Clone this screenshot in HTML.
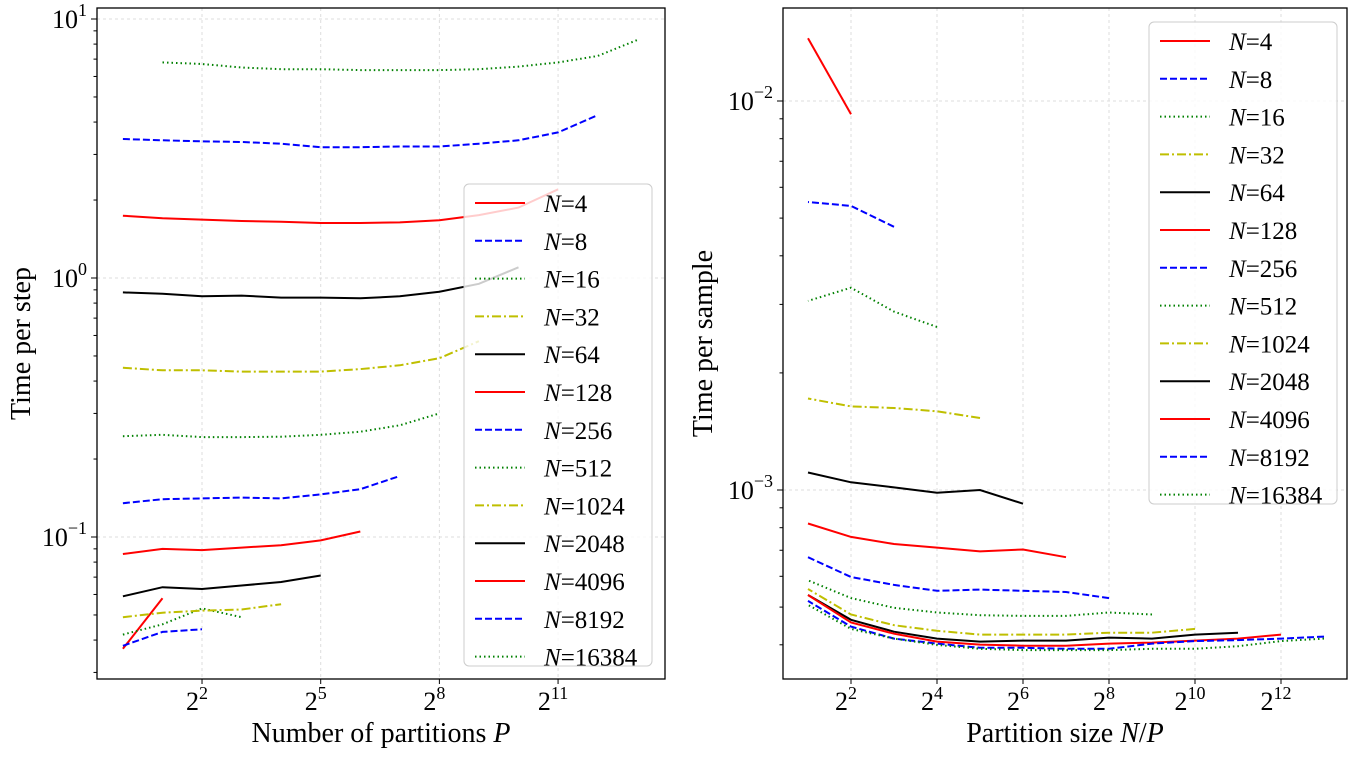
<!DOCTYPE html>
<html><head><meta charset="utf-8"><style>
body{margin:0;background:#fff;}
svg{display:block;font-family:"Liberation Serif",serif;}
</style></head><body>
<svg id="chart" width="1360" height="760" xmlns="http://www.w3.org/2000/svg"></svg>
<script>
// Data: time per step for each N, indexed by P = 1,2,4,... (first P given in pStart)
const seriesN = [4,8,16,32,64,128,256,512,1024,2048,4096,8192,16384];
const pStartExp = [0,0,0,0,0,0,0,0,0,0,0,0,1];
const timePerStep = [
 [0.037,0.058],
 [0.038,0.043,0.044],
 [0.042,0.046,0.053,0.049],
 [0.049,0.051,0.052,0.0525,0.055],
 [0.059,0.064,0.063,0.065,0.067,0.071],
 [0.086,0.090,0.089,0.091,0.093,0.097,0.105],
 [0.135,0.140,0.141,0.142,0.141,0.146,0.153,0.172],
 [0.245,0.248,0.243,0.243,0.244,0.248,0.255,0.270,0.300],
 [0.450,0.440,0.440,0.435,0.435,0.435,0.445,0.460,0.490,0.570],
 [0.88,0.87,0.85,0.855,0.84,0.84,0.835,0.85,0.885,0.95,1.10],
 [1.74,1.70,1.68,1.66,1.65,1.63,1.63,1.64,1.67,1.75,1.87,2.20],
 [3.44,3.40,3.37,3.35,3.30,3.20,3.20,3.22,3.22,3.30,3.40,3.65,4.25],
 [6.8,6.7,6.5,6.4,6.4,6.35,6.35,6.35,6.4,6.55,6.8,7.2,8.3]
];
const leftXTicks = [2,5,8,11];
const rightXTicks = [2,4,6,8,10,12];
const leftYTicks = [1,0,-1];
const rightYTicks = [-2,-3];

const svg = document.getElementById('chart');
const NS='http://www.w3.org/2000/svg';
function el(tag, attrs, parent){const e=document.createElementNS(NS,tag);for(const k in attrs)e.setAttribute(k,attrs[k]);(parent||svg).appendChild(e);return e;}
const colors=['#ff0000','#0000ff','#008000','#bfbf00','#000000'];
const dashes=['none','7,3','1.5,3','9,3,2,3','none'];
function styleOf(i){const k=i%5;return {stroke:colors[k],dash:dashes[k]};}

function makeAxes(cfg){
  const g=el('g',{});
  
  
  const X=v=>cfg.x0+(Math.log2(v)-cfg.xl0)*cfg.xs;
  const Y=v=>cfg.y0-(Math.log10(v)-cfg.yl0)*cfg.ys;
  cfg.xt.forEach(e=>{const x=X(Math.pow(2,e));el('line',{x1:x,x2:x,y1:cfg.top,y2:cfg.bot,stroke:'#ddd','stroke-dasharray':'3,3','stroke-width':1},g);});
  cfg.yt.forEach(e=>{const y=Y(Math.pow(10,e));el('line',{x1:cfg.left,x2:cfg.right,y1:y,y2:y,stroke:'#ddd','stroke-dasharray':'3,3','stroke-width':1},g);});
  cfg.xt.forEach(e=>{const x=X(Math.pow(2,e));el('line',{x1:x,x2:x,y1:cfg.bot,y2:cfg.bot+5,stroke:'#000'},g);
    const t=el('text',{x:x-5,y:cfg.bot+31,'font-size':26,'text-anchor':'middle'},g);
    
    t.innerHTML='2<tspan dy="-11" font-size="18">'+e+'</tspan>';});
  for(let d=-5;d<=2;d++){for(let m=1;m<10;m++){const v=m*Math.pow(10,d);const y=Y(v);if(y<cfg.top||y>cfg.bot)continue;
    el('line',{x1:cfg.left-(m==1?6:3.5),x2:cfg.left,y1:y,y2:y,stroke:'#000'},g);}}
  cfg.yt.forEach(e=>{const y=Y(Math.pow(10,e));
    const t=el('text',{x:cfg.left-10,y:y+9,'font-size':26,'text-anchor':'end'},g);
    
    t.innerHTML='10<tspan dy="-12" font-size="18">'+(e<0?'\u2212'+(-e):e)+'</tspan>';});
  const lg=el('g',{},g);
  cfg.series.forEach((s,i)=>{const st=styleOf(i);
    const p=el('polyline',{points:s.map(q=>X(q[0]).toFixed(1)+','+Y(q[1]).toFixed(1)).join(' '),fill:'none',stroke:st.stroke,'stroke-width':2,'stroke-dasharray':st.dash},lg);
    });
  el('rect',{x:cfg.left,y:cfg.top,width:cfg.right-cfg.left,height:cfg.bot-cfg.top,fill:'none',stroke:'#000','stroke-width':1.3},g);
  const L=el('g',{},g);
  el('rect',{x:cfg.lx,y:cfg.ly,width:188,height:482,rx:5,fill:'rgba(255,255,255,0.8)',stroke:'#ccc'},L);
  seriesN.forEach((n,i)=>{const st=styleOf(i);const y=cfg.ly+19+i*37.8;
    const en=el('g',{},L);
    el('line',{x1:cfg.lx+11,x2:cfg.lx+61,y1:y,y2:y,stroke:st.stroke,'stroke-width':2,'stroke-dasharray':st.dash},en);
    const t=el('text',{x:cfg.lx+80,y:y+9,'font-size':25},en);t.innerHTML='<tspan font-style="italic">N</tspan>='+n;});
  const xt=el('text',{x:(cfg.left+cfg.right)/2,y:742,'font-size':28,'text-anchor':'middle'},g);
  xt.innerHTML=cfg.xtitle;
  const yt=el('text',{x:0,y:0,'font-size':28,'text-anchor':'middle',transform:'translate('+cfg.ytx+','+((cfg.top+cfg.bot)/2)+') rotate(-90)'},g);
  yt.textContent=cfg.ytitle;
}

const leftSeries=timePerStep.map((arr,i)=>arr.map((v,j)=>[Math.pow(2,pStartExp[i]+j),v]));
const rightSeries=timePerStep.map((arr,i)=>arr.map((v,j)=>[seriesN[i]/Math.pow(2,pStartExp[i]+j),v/seriesN[i]]));

makeAxes({name:'left-chart',left:97,right:665,top:8,bot:679,x0:122.9,xl0:0,xs:39.56,y0:278,yl0:0,ys:259,
  xt:leftXTicks,yt:leftYTicks,series:leftSeries,lx:464,ly:184,xtitle:'Number of partitions <tspan font-style="italic">P</tspan>',ytitle:'Time per step',ytx:30});
makeAxes({name:'right-chart',left:783,right:1347,top:8,bot:679,x0:765,xl0:0,xs:43,y0:101,yl0:-2,ys:389,
  xt:rightXTicks,yt:rightYTicks,series:rightSeries,lx:1149,ly:22,xtitle:'Partition size <tspan font-style="italic">N</tspan>/<tspan font-style="italic">P</tspan>',ytitle:'Time per sample',ytx:712});
</script>
</body></html>
